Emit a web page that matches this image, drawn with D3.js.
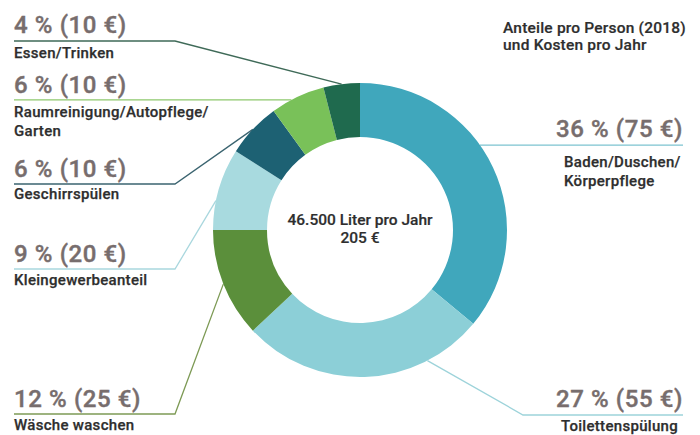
<!DOCTYPE html>
<html><head><meta charset="utf-8">
<script src="https://cdn.jsdelivr.net/npm/d3@7"></script>
<style>
body{margin:0;background:#fff;}
svg{display:block;font-family:Roboto,"Noto Sans",sans-serif;}
</style></head>
<body><svg id="c" width="700" height="435"></svg>
<script>
// ---- data ----
const categories = ["Baden/Duschen/|Körperpflege","Toilettenspülung","Wäsche waschen","Kleingewerbeanteil","Geschirrspülen","Raumreinigung/Autopflege/|Garten","Essen/Trinken"];
const shares = [36, 27, 12, 9, 6, 6, 4];
const costs = [75, 55, 25, 20, 10, 10, 10];
const colors = ["#40a7bc","#8ccfd7","#5b8f3b","#a8dadf","#1d6173","#79c159","#1f6a4e"];
const lineColors = ["#7cc3d0","#9dd3da","#7d9a55","#a9d7de","#3b6470","#8ec86d","#3f6a58"];
const centerLines = ["46.500 Liter pro Jahr","205 €"];
const titleLines = ["Anteile pro Person (2018)","und Kosten pro Jahr"];

// ---- layout ----
const cx = 360, cy = 230, rOuter = 147, rInner = 93;
const layout = [
  {ang:54.7, pts:[[683,null]], side:"right", pctX:683, pctY:137, nameX:564, nameY:167, nameAnchor:"start"},
  {ang:152.7, pts:[[523,415],[683,415]], side:"right", pctX:683, pctY:407, nameX:678, nameY:431, nameAnchor:"end"},
  {ang:248.4, pts:[[175,414],[14,414]], pctX:14, pctY:407, nameX:14, nameY:430},
  {ang:281.5, pts:[[175,269],[14,269]], pctX:14, pctY:262, nameX:14, nameY:285},
  {ang:313.2, pts:[[175,184],[14,184]], pctX:14, pctY:177, nameX:14, nameY:199},
  {ang:332.2, pts:[[14,null]], pctX:14, pctY:93, nameX:14, nameY:117},
  {ang:352.8, pts:[[175,41],[14,41]], pctX:14, pctY:33, nameX:14, nameY:58}
];

const svg = d3.select("#c");
const pie = d3.pie().sort(null).value(d=>d)(shares);
const arc = d3.arc().innerRadius(rInner).outerRadius(rOuter);

const gl = svg.append("g");
layout.forEach((L,i)=>{
  const a = L.ang*Math.PI/180;
  const p0 = [cx + rOuter*Math.sin(a), cy - rOuter*Math.cos(a)];
  const pts = [p0].concat(L.pts.map(p=>[p[0], p[1]===null ? p0[1] : p[1]]));
  gl.append("path").attr("d", d3.line()(pts)).attr("fill","none")
    .attr("stroke", lineColors[i]).attr("stroke-width",1.3);
});

svg.append("g").attr("transform",`translate(${cx},${cy})`)
  .selectAll("path").data(pie).join("path")
  .attr("d",arc).attr("fill",(d,i)=>colors[i]);

const fmt = (i)=>`${shares[i]} % (${costs[i]} €)`;
layout.forEach((L,i)=>{
  svg.append("text").attr("x",L.pctX).attr("y",L.pctY)
    .attr("text-anchor", L.side==="right"?"end":"start")
    .attr("font-size",24).attr("font-weight",500).attr("fill","#776d6d")
    .attr("stroke","#776d6d").attr("stroke-width",0.4)
    .attr("letter-spacing",0.6).text(fmt(i));
  const lines = categories[i].split("|");
  lines.forEach((t,k)=>{
    svg.append("text").attr("x",L.nameX).attr("y",L.nameY+k*19)
      .attr("text-anchor", L.nameAnchor||"start")
      .attr("font-size",15).attr("font-weight",500).attr("fill","#2e2e2e")
      .attr("stroke","#2e2e2e").attr("stroke-width",0.25)
      .attr("letter-spacing",0.3).text(t);
  });
});

centerLines.forEach((t,k)=>{
  svg.append("text").attr("x",cx).attr("y",225+k*18).attr("text-anchor","middle")
    .attr("font-size",15.5).attr("font-weight",500).attr("fill","#2e2e2e")
    .attr("stroke","#2e2e2e").attr("stroke-width",0.2).text(t);
});
titleLines.forEach((t,k)=>{
  svg.append("text").attr("x",503).attr("y",33+k*17)
    .attr("font-size",15.5).attr("font-weight",500).attr("fill","#2e2e2e")
    .attr("stroke","#2e2e2e").attr("stroke-width",0.2)
    .attr("letter-spacing",0.2).text(t);
});
</script></body></html>
